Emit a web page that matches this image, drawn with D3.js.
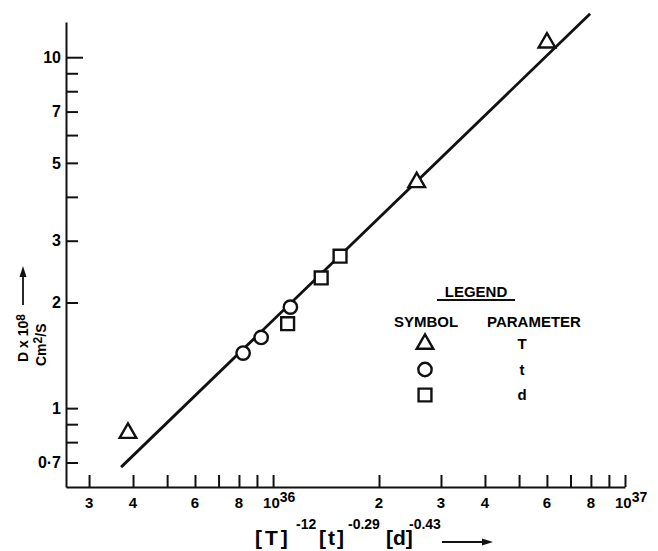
<!DOCTYPE html>
<html>
<head>
<meta charset="utf-8">
<script src="https://cdn.jsdelivr.net/npm/d3@7"></script>
<style>
  body { margin: 0; background: #fff; }
  svg { font-family: "Liberation Sans", Arial, sans-serif; }
  .axis path, .axis line { stroke: #111; stroke-width: 2; }
</style>
</head>
<body>
<svg id="chart" width="658" height="551"></svg>
<script>
// ticks
var xTicks = [3e35, 4e35, 5e35, 6e35, 7e35, 8e35, 9e35, 1e36,
              2e36, 3e36, 4e36, 5e36, 6e36, 7e36, 8e36, 9e36, 1e37];
var xLabels = [3e35, 4e35, 6e35, 8e35, 2e36, 3e36, 4e36, 6e36, 8e36];
var xPowers = [1e36, 1e37];
var yTicks = [0.7, 0.8, 0.9, 1, 2, 3, 4, 5, 6, 7, 8, 9, 10];
var yLabels = [0.7, 1, 2, 3, 5, 7, 10];

// data
var triX = [3.87e35, 2.56e36, 6.0e36];
var triY = [0.849, 4.40, 11.0];
var circX = [8.22e35, 9.25e35, 1.12e36];
var circY = [1.435, 1.59, 1.94];
var sqX = [1.10e36, 1.37e36, 1.55e36];
var sqY = [1.74, 2.35, 2.71];
var fitX = [3.70e35, 7.96e36];
var fitY = [0.679, 13.3];

var legendSymbols = ["triangle", "circle", "square"];
var legendParams = ["T", "t", "d"];

var svg = d3.select('#chart');

var x = d3.scaleLog().domain([2.58e35, 1e37]).range([66, 625]);
var y = d3.scaleLog().domain([0.596, 12.6]).range([487, 22]);

var symbolType = {triangle: d3.symbolTriangle, circle: d3.symbolCircle, square: d3.symbolSquare};
var symbolSize = {triangle: 120, circle: 140, square: 165};
function sym(kind) {
    return d3.symbol().type(symbolType[kind]).size(symbolSize[kind])();
}

// y axis, ticks inward
var yAxis = svg.append("g")
    .attr("class", "axis")
    .attr("transform", "translate(66,0)")
    .call(d3.axisLeft(y).tickValues(yTicks).tickSizeInner(-12).tickSizeOuter(0).tickFormat(""));
yAxis.selectAll(".tick line").attr("x2", function(d) { return d == 10 ? 17 : 12; });
yAxis.selectAll(".tick text").remove();

svg.selectAll(".ylab")
    .data(yLabels)
  .enter().append("text")
    .attr("class", "ylab")
    .attr("x", 61)
    .attr("y", function(d) { return y(d); })
    .attr("dy", "0.36em")
    .attr("text-anchor", "end")
    .attr("font-size", 16)
    .attr("font-weight", "bold")
    .text(function(d) { return d == 0.7 ? "0·7" : d; });

// x axis
var xAxis = svg.append("g")
    .attr("class", "axis")
    .attr("transform", "translate(0,487)")
    .call(d3.axisBottom(x).tickValues(xTicks).tickSizeInner(-12).tickSizeOuter(0).tickFormat(""));
xAxis.selectAll(".tick text").remove();

svg.selectAll(".xlab")
    .data(xLabels)
  .enter().append("text")
    .attr("class", "xlab")
    .attr("x", function(d) { return x(d); })
    .attr("y", 508)
    .attr("text-anchor", "middle")
    .attr("font-size", 15)
    .attr("font-weight", "bold")
    .text(function(d) { return Math.round(d / Math.pow(10, Math.floor(Math.log10(d)))); });

var pw = svg.selectAll(".xpow")
    .data(xPowers)
  .enter().append("text")
    .attr("class", "xpow")
    .attr("x", function(d) { return x(d) - 10; })
    .attr("y", 508)
    .attr("font-size", 15)
    .attr("font-weight", "bold");
pw.append("tspan").text("10");
pw.append("tspan").attr("dy", -6).attr("font-size", 14)
    .text(function(d) { return Math.round(Math.log10(d)); });

// fitted line
var line = d3.line()
    .x(function(d) { return x(d[0]); })
    .y(function(d) { return y(d[1]); });

svg.append("path")
    .datum(d3.zip(fitX, fitY))
    .attr("d", line)
    .attr("fill", "none")
    .attr("stroke", "#111")
    .attr("stroke-width", 2.8);

// points
function drawPoints(xs, ys, kind) {
    svg.append("g").selectAll("path")
        .data(d3.zip(xs, ys))
      .enter().append("path")
        .attr("transform", function(d) { return "translate(" + x(d[0]) + "," + y(d[1]) + ")"; })
        .attr("d", sym(kind))
        .attr("fill", "#fff")
        .attr("stroke", "#111")
        .attr("stroke-width", 2.4);
}
drawPoints(triX, triY, "triangle");
drawPoints(circX, circY, "circle");
drawPoints(sqX, sqY, "square");

// y axis title
var yt1 = svg.append("text")
    .attr("transform", "translate(28,362) rotate(-90)")
    .attr("font-size", 14)
    .attr("font-weight", "bold");
yt1.append("tspan").text("D x 10");
yt1.append("tspan").attr("dy", -3).attr("font-size", 12).text("8");

var yt2 = svg.append("text")
    .attr("transform", "translate(46,366) rotate(-90)")
    .attr("font-size", 14)
    .attr("font-weight", "bold");
yt2.append("tspan").text("Cm");
yt2.append("tspan").attr("dy", -4).attr("font-size", 12).text("2");
yt2.append("tspan").attr("dy", 4).text("/S");

svg.append("line")
    .attr("x1", 23).attr("y1", 305).attr("x2", 23).attr("y2", 274)
    .attr("stroke", "#111").attr("stroke-width", 1.8);
svg.append("path")
    .attr("d", "M23,266L19.5,277L26.5,277Z")
    .attr("fill", "#111");

// x axis title
var xt = [
    {t: "[T]", x: 255, y: 545, s: 21, ls: 3},
    {t: "-12", x: 296, y: 529, s: 14, ls: 0},
    {t: "[t]", x: 319, y: 545, s: 21, ls: 2},
    {t: "-0.29", x: 348, y: 529, s: 14, ls: 0},
    {t: "[d]", x: 386, y: 545, s: 21, ls: 0},
    {t: "-0.43", x: 409, y: 529, s: 14, ls: 0}
];
svg.selectAll(".xt")
    .data(xt)
  .enter().append("text")
    .attr("class", "xt")
    .attr("x", function(d) { return d.x; })
    .attr("y", function(d) { return d.y; })
    .attr("font-size", function(d) { return d.s; })
    .attr("font-weight", "bold")
    .attr("letter-spacing", function(d) { return d.ls; })
    .text(function(d) { return d.t; });

svg.append("line")
    .attr("x1", 442).attr("y1", 542).attr("x2", 484).attr("y2", 542)
    .attr("stroke", "#111").attr("stroke-width", 2);
svg.append("path")
    .attr("d", "M493,542L482,538.5L482,545.5Z")
    .attr("fill", "#111");

// legend
var lg = svg.append("g").attr("font-weight", "bold");
lg.append("text").attr("x", 476).attr("y", 297).attr("text-anchor", "middle")
    .attr("font-size", 15).text("LEGEND");
lg.append("line").attr("x1", 437).attr("x2", 515).attr("y1", 300).attr("y2", 300)
    .attr("stroke", "#111").attr("stroke-width", 2);
lg.append("text").attr("x", 426).attr("y", 327).attr("text-anchor", "middle")
    .attr("font-size", 15).text("SYMBOL");
lg.append("text").attr("x", 534).attr("y", 327).attr("text-anchor", "middle")
    .attr("font-size", 15).text("PARAMETER");

var legendY = d3.scalePoint().domain(legendSymbols).range([344, 395]);
legendSymbols.forEach(function(k, i) {
    lg.append("path")
        .attr("transform", "translate(425," + legendY(k) + ")")
        .attr("d", sym(k))
        .attr("fill", "#fff")
        .attr("stroke", "#111")
        .attr("stroke-width", 2.4);
    lg.append("text")
        .attr("x", 522)
        .attr("y", legendY(k))
        .attr("dy", "0.36em")
        .attr("text-anchor", "middle")
        .attr("font-size", 15)
        .text(legendParams[i]);
});
</script>
</body>
</html>
